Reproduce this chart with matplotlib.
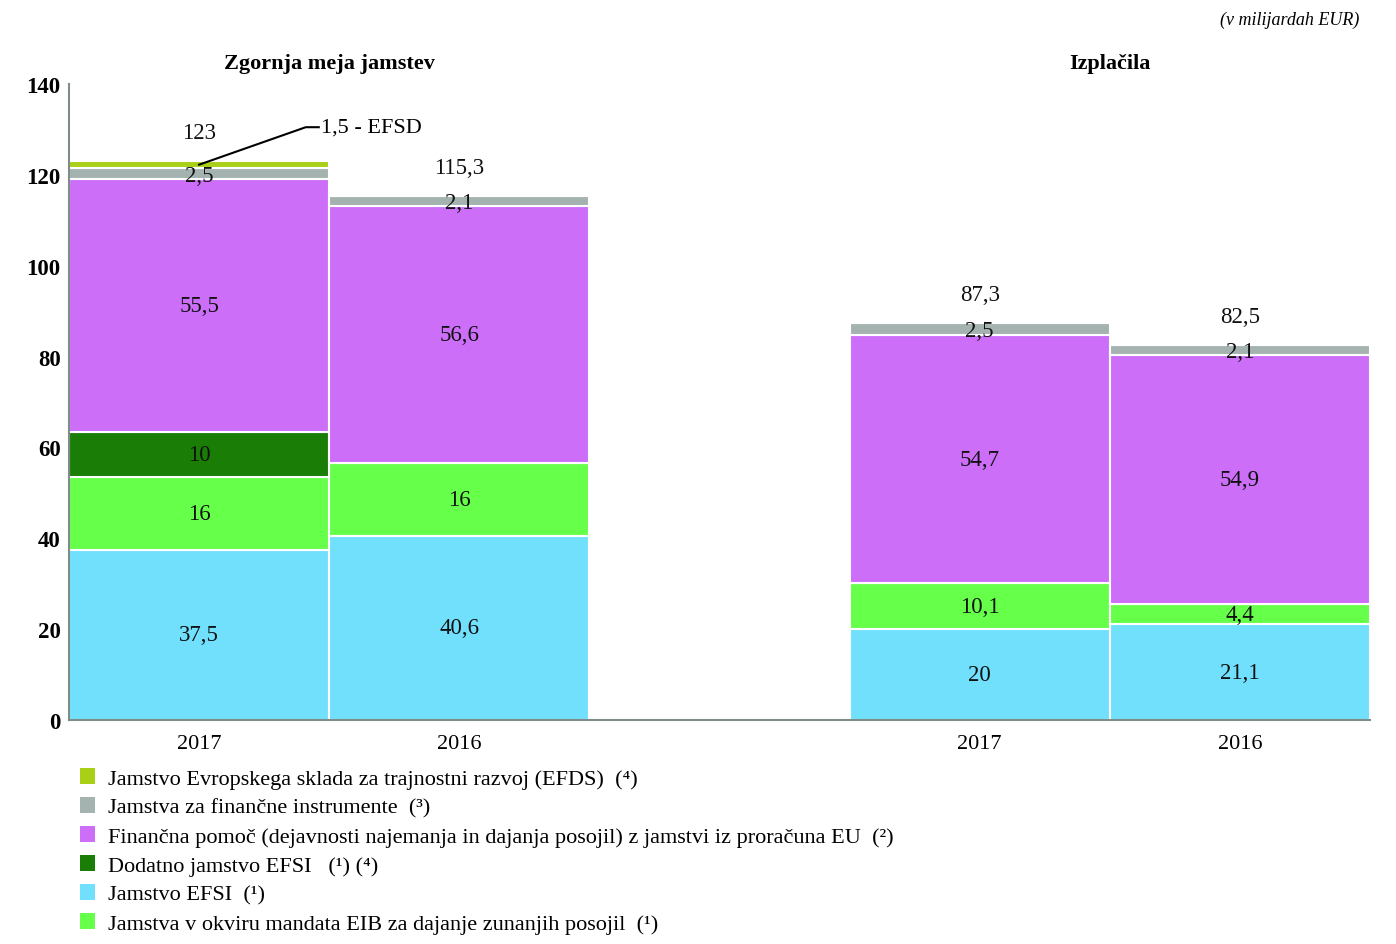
import numpy as np
import matplotlib
matplotlib.use("Agg")
from matplotlib import pyplot as plt
from matplotlib.patches import Patch

plt.rcParams['font.family'] = ['Liberation Serif', 'DejaVu Serif']

# bars: Zgornja meja 2017, 2016 | Izplačila 2017, 2016
years = ['2017', '2016', '2017', '2016']
efsi = [37.5, 40.6, 20, 21.1]
eib_external = [16, 16, 10.1, 4.4]
efsi_extra = [10, 0, 0, 0]
fin_assist = [55.5, 56.6, 54.7, 54.9]
fin_instr = [2.5, 2.1, 2.5, 2.1]
efsd = [1.5, 0, 0, 0]
totals = ['123', '115,3', '87,3', '82,5']
group_titles = ['Zgornja meja jamstev', 'Izplačila']

series = [efsi, eib_external, efsi_extra, fin_assist, fin_instr, efsd]
colors = ['#70E0FD', '#66FF4A', '#1A7D06', '#CC6EF8', '#A5B3B0', '#A9CF16']
show_label = [True, True, True, True, True, False]

legend_labels = [
    'Jamstvo Evropskega sklada za trajnostni razvoj (EFDS)  (⁴)',
    'Jamstva za finančne instrumente  (³)',
    'Finančna pomoč (dejavnosti najemanja in dajanja posojil) z jamstvi iz proračuna EU  (²)',
    'Dodatno jamstvo EFSI   (¹) (⁴)',
    'Jamstvo EFSI  (¹)',
    'Jamstva v okviru mandata EIB za dajanje zunanjih posojil  (¹)',
]
legend_colors = ['#A9CF16', '#A5B3B0', '#CC6EF8', '#1A7D06', '#70E0FD', '#66FF4A']

def fmt(v):
    s = ('%.1f' % v).rstrip('0').rstrip('.')
    return s.replace('.', ',')

x = np.array([0, 1, 3, 4])

fig = plt.figure(figsize=(13.96, 9.45), dpi=100)
ax = fig.add_axes([0.0494, 0.237, 0.932, 0.673])

bottom = np.zeros(len(x))
for vals, col, lab in zip(series, colors, show_label):
    vals = np.array(vals, dtype=float)
    ax.bar(x, vals, width=1.0, bottom=bottom, color=col, edgecolor='white',
           linewidth=1.5, zorder=2)
    if lab:
        for xi, b, v in zip(x, bottom, vals):
            if v <= 0:
                continue
            if v < 3:
                ypos = b + v / 2 - 0.3
            else:
                ypos = b + v / 2
            ax.text(xi, ypos, fmt(v), ha='center', va='center', fontsize=16.5,
                    color='#111111', zorder=3)
    bottom += vals

for xi, top, t in zip(x, bottom, totals):
    ax.text(xi, top + 6.4, t, ha='center', va='center', fontsize=16.5,
            color='#111111')

# EFSD callout
efsd_mid = bottom[0] - efsd[0] / 2
ax.plot([0, 0.41, 0.46], [efsd_mid, 130.5, 130.5], color='black', lw=1.5,
        zorder=4, clip_on=False)
ax.text(0.47, 130.5, '1,5 - EFSD', ha='left', va='center', fontsize=16)

ax.set_xlim(-0.5, 4.5)
ax.set_ylim(0, 140)
ax.set_yticks(np.arange(0, 141, 20))
ax.set_xticks(x)
ax.set_xticklabels(years, fontsize=16)
ax.tick_params(axis='both', length=0)
ax.tick_params(axis='y', labelsize=16.5, pad=6)
ax.tick_params(axis='x', pad=10)
for lbl in ax.get_yticklabels():
    lbl.set_fontweight('bold')
for s in ['top', 'right']:
    ax.spines[s].set_visible(False)
for s in ['left', 'bottom']:
    ax.spines[s].set_color('#7F8C8C')
    ax.spines[s].set_linewidth(1.5)

for cx, title in zip([0.5, 3.5], group_titles):
    ax.text(cx, 1.033, title, transform=ax.get_xaxis_transform(),
            ha='center', va='center', fontsize=16, fontweight='bold')

fig.text(0.974, 0.978, '(v milijardah EUR)', ha='right', va='center',
         fontsize=13, style='italic')

handles = [Patch(facecolor=c, edgecolor='none') for c in legend_colors]
fig.legend(handles, legend_labels, loc='upper left',
           bbox_to_anchor=(0.057, 0.186), frameon=False, fontsize=16,
           handlelength=0.7, handleheight=0.7, handletextpad=0.6,
           labelspacing=0.38, borderaxespad=0, borderpad=0)

fig.savefig('out.png', dpi=100)
